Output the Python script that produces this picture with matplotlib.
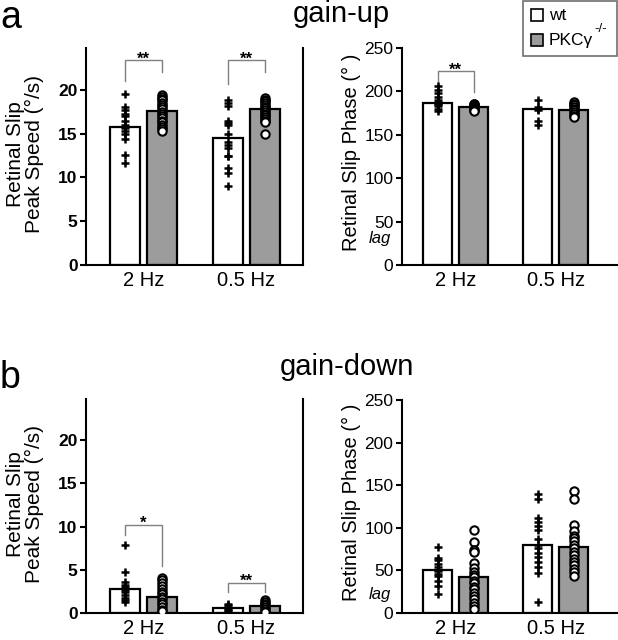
import matplotlib
matplotlib.use("Agg")
import matplotlib.pyplot as plt
from matplotlib.patches import Rectangle
from matplotlib.transforms import blended_transform_factory

plt.rcParams['font.family'] = ['Liberation Sans', 'DejaVu Sans']

groups = ['2 Hz', '0.5 Hz']

# gain-up, retinal slip peak speed (deg/s)
up_speed_wt = [15.8, 14.5]
up_speed_ko = [17.6, 17.8]
up_speed_wt_pts = [
    [19.5, 18.0, 17.7, 17.3, 17.0, 16.5, 16.0, 15.8, 15.6, 15.3, 15.0, 14.4, 12.6, 11.7],
    [18.9, 18.5, 18.2, 16.4, 16.2, 16.0, 15.0, 14.0, 13.7, 13.4, 12.5, 12.4, 11.1, 10.5, 9.0],
]
up_speed_ko_pts = [
    [19.4, 19.2, 19.0, 18.8, 18.5, 18.3, 18.0, 17.8, 17.5, 17.3, 17.0, 16.8, 16.5, 16.3,
     16.0, 15.8, 15.5, 15.3],
    [19.1, 18.9, 18.7, 18.5, 18.3, 18.1, 17.9, 17.7, 17.5, 17.3, 17.1, 16.9, 16.7, 16.5,
     16.3, 15.0],
]

# gain-up, retinal slip phase (deg)
up_phase_wt = [187, 180]
up_phase_ko = [182, 179]
up_phase_wt_pts = [
    [206, 202, 198, 194, 190, 188, 186, 185, 183, 180, 177],
    [190, 182, 180, 179, 166, 161],
]
up_phase_ko_pts = [
    [186, 185, 184, 183, 182, 181, 180, 179, 178, 177],
    [188, 186, 184, 182, 180, 178, 176, 174, 172, 171],
]

# gain-down, retinal slip peak speed (deg/s)
down_speed_wt = [2.8, 0.6]
down_speed_ko = [1.9, 0.85]
down_speed_wt_pts = [
    [7.9, 4.8, 3.6, 3.3, 3.0, 2.7, 2.4, 2.1, 1.8, 1.5, 1.3],
    [1.1, 0.9, 0.7, 0.5, 0.4, 0.3],
]
down_speed_ko_pts = [
    [4.1, 3.8, 3.5, 3.1, 2.8, 2.5, 2.2, 1.9, 1.6, 1.3, 1.0, 0.7, 0.4, 0.2],
    [1.5, 1.3, 1.1, 0.9, 0.7, 0.5, 0.3, 0.1],
]

# gain-down, retinal slip phase (deg)
down_phase_wt = [51, 80]
down_phase_ko = [42, 78]
down_phase_wt_pts = [
    [78, 65, 62, 58, 54, 51, 49, 46, 44, 38, 32, 22],
    [140, 134, 112, 107, 102, 97, 87, 80, 76, 71, 66, 60, 54, 47, 13],
]
down_phase_ko_pts = [
    [98, 84, 74, 72, 59, 53, 48, 45, 42, 38, 35, 31, 28, 24, 20, 16, 12, 8, 5],
    [143, 134, 103, 96, 91, 88, 85, 80, 76, 72, 68, 64, 60, 56, 52, 48, 44],
]

# significance brackets: (group, top, left leg end, right leg end, label)
up_speed_sig = [(0, 23.4, 21.0, 22.0, '**'), (1, 23.4, 20.7, 22.0, '**')]
up_phase_sig = [(0, 223, 211, 199, '**')]
down_speed_sig = [(0, 10.2, 9.0, 5.5, '*'), (1, 3.5, 2.4, 2.4, '**')]
down_phase_sig = []

legend_labels = ['wt', 'PKCγ']

GRAY = '#9c9c9c'
OFF = 0.18
W = 0.29


def draw_panel(ax, wt, ko, wt_pts, ko_pts, sig, speed):
    xs = range(len(groups))
    ax.bar([x - OFF for x in xs], wt, W, color='white', edgecolor='black', lw=1.6, zorder=1)
    ax.bar([x + OFF for x in xs], ko, W, color=GRAY, edgecolor='black', lw=1.6, zorder=1)
    for x, pts in zip(xs, wt_pts):
        ax.plot([x - OFF] * len(pts), pts, '+', color='black', ms=6, mew=1.8, zorder=3)
    for x, pts in zip(xs, ko_pts):
        ax.plot([x + OFF] * len(pts), pts, 'o', mfc='white', mec='black', ms=6, mew=1.5, zorder=3)
    for g, top, yl, yr, lab in sig:
        ax.plot([g - OFF, g - OFF, g + OFF, g + OFF], [yl, top, top, yr],
                color='#808080', lw=1, zorder=2)
        ax.annotate(lab, (g, top), xytext=(0, 1), textcoords='offset points',
                    ha='center', va='center', fontsize=12, fontweight='bold')
    ax.set_xticks(list(xs))
    ax.set_xticklabels(groups, fontsize=14.5)
    ax.tick_params(axis='x', length=0, pad=4)
    ax.spines['top'].set_visible(False)
    for s in ax.spines.values():
        s.set_linewidth(1.5)
    if speed:
        ax.set_xlim(-0.558, 1.549)
        ax.set_ylim(0, 24.8)
        ax.set_yticks([0, 5, 10, 15, 20])
        ax.tick_params(axis='y', labelsize=12.5, length=4, width=1.5, pad=2)
        for t in ax.get_yticklabels():
            t.set_fontweight('bold')
        ax.set_ylabel('Retinal Slip\nPeak Speed (°/s)', fontsize=15, linespacing=0.95)
        ax.yaxis.set_label_coords(-0.195, 0.51)
    else:
        ax.set_xlim(-0.54, 1.62)
        ax.set_ylim(0, 250)
        ax.set_yticks([0, 50, 100, 150, 200, 250])
        ax.tick_params(axis='y', labelsize=12.5, length=4, width=1.5, pad=2)
        ax.spines['right'].set_visible(False)
        ax.set_ylabel('Retinal Slip Phase (° )', fontsize=14.5)
        ax.yaxis.set_label_coords(-0.19, 0.52)


fig = plt.figure(figsize=(6.18, 6.4), dpi=100)
ax1 = fig.add_axes([0.139, 0.586, 0.351, 0.339])
ax2 = fig.add_axes([0.650, 0.586, 0.350, 0.339])
ax3 = fig.add_axes([0.139, 0.042, 0.351, 0.335])
ax4 = fig.add_axes([0.650, 0.042, 0.350, 0.333])

draw_panel(ax1, up_speed_wt, up_speed_ko, up_speed_wt_pts, up_speed_ko_pts, up_speed_sig, True)
draw_panel(ax2, up_phase_wt, up_phase_ko, up_phase_wt_pts, up_phase_ko_pts, up_phase_sig, False)
draw_panel(ax3, down_speed_wt, down_speed_ko, down_speed_wt_pts, down_speed_ko_pts, down_speed_sig, True)
draw_panel(ax4, down_phase_wt, down_phase_ko, down_phase_wt_pts, down_phase_ko_pts, down_phase_sig, False)

for ax, ylag in [(ax2, 31), (ax4, 22)]:
    tr = blended_transform_factory(ax.transAxes, ax.transData)
    ax.text(-0.1, ylag, 'lag', transform=tr, fontsize=12, style='italic',
            ha='center', va='center')

fig.text(0.0, 1 - 28 / 640, 'a', fontsize=27, va='baseline')
fig.text(0.0, 1 - 388 / 640, 'b', fontsize=27, va='baseline')
fig.text(341 / 618, 1 - 22 / 640, 'gain-up', fontsize=21, ha='center', va='baseline')
fig.text(347 / 618, 1 - 375 / 640, 'gain-down', fontsize=21, ha='center', va='baseline')

# legend box drawn by hand so the superscript sits right of the label
px = lambda x, y: (x / 618, 1 - y / 640)
fig.patches.append(Rectangle(px(523, 56), 94 / 618, 55 / 640, transform=fig.transFigure,
                             facecolor='white', edgecolor='#707070', lw=1.2))
for (yc, fc, lab) in [(15, 'white', legend_labels[0]), (40, GRAY, legend_labels[1])]:
    fig.patches.append(Rectangle(px(531, yc + 6), 12 / 618, 12 / 640, transform=fig.transFigure,
                                 facecolor=fc, edgecolor='black', lw=1.2))
    fig.text(*px(549, yc), lab, fontsize=12.5, va='center')
fig.text(*px(601, 32), '-/-', fontsize=9.5, ha='center', va='baseline')

fig.savefig('out.png', dpi=100)
